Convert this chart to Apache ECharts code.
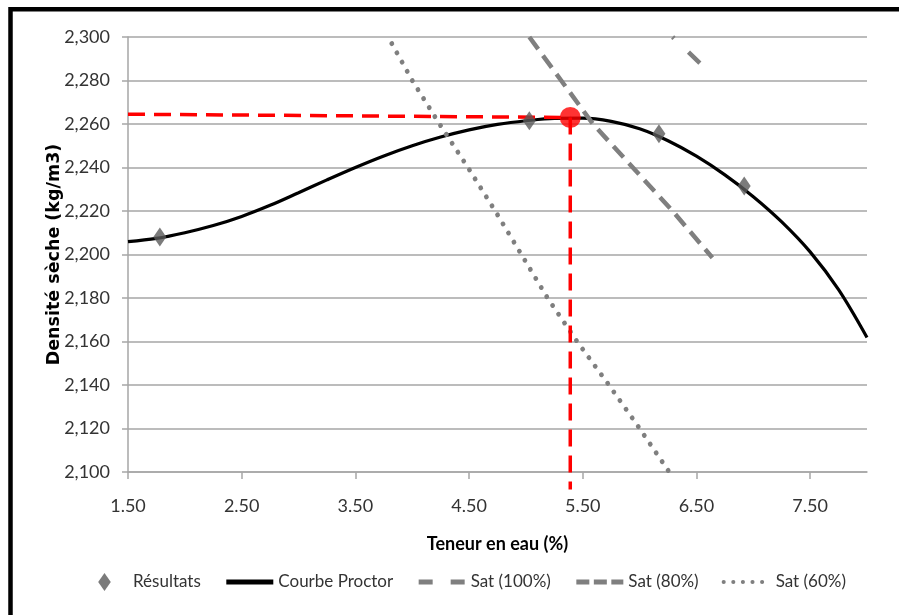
<!DOCTYPE html>
<html>
<head>
<meta charset="utf-8">
<script src="https://cdn.jsdelivr.net/npm/echarts@6/dist/echarts.min.js"></script>
<style>
  html, body { margin: 0; padding: 0; background: #fff; }
  #chart { width: 899px; height: 615px; }
</style>
</head>
<body>
<div id="chart"></div>
<script>
// essais (teneur en eau %, densité sèche)
var resultats = [[1.78, 2.208], [5.03, 2.2615], [6.17, 2.2555], [6.92, 2.2315]]
// courbe Proctor (pas de 0.25)
var courbeProctor = [
  [1.5, 2.2059], [1.75, 2.2074], [2.0, 2.2100], [2.25, 2.2133], [2.5, 2.2175],
  [2.75, 2.2226], [3.0, 2.2284], [3.25, 2.2343], [3.5, 2.2400], [3.75, 2.2453],
  [4.0, 2.2500], [4.25, 2.2540], [4.5, 2.2573], [4.75, 2.2598], [5.0, 2.2615],
  [5.25, 2.2626], [5.5, 2.2627], [5.75, 2.2612], [6.0, 2.2578], [6.25, 2.2523],
  [6.5, 2.2452], [6.75, 2.2366], [7.0, 2.2266], [7.25, 2.2150], [7.5, 2.2012],
  [7.75, 2.1838], [8.0, 2.1618]
]
var sat100 = [[6.29, 2.300], [6.53, 2.288]]
var sat80 = [[5.03, 2.300], [5.31, 2.280], [5.59, 2.260], [5.94, 2.240], [6.29, 2.220], [6.64, 2.1985]]
var sat60 = [
  [3.82, 2.297], [4.00, 2.280], [4.24, 2.260], [4.49, 2.240], [4.73, 2.220], [4.96, 2.200],
  [5.19, 2.180], [5.45, 2.160], [5.73, 2.140], [6.00, 2.120], [6.26, 2.100]
]
// optimum Proctor
var optimum = [[5.39, 2.263]]
var repereH = [[1.5, 2.2645], [5.39, 2.263]]
var repereV = [[5.39, 2.263], [5.39, 2.092]]
var xTicks = [1.5, 2.5, 3.5, 4.5, 5.5, 6.5, 7.5]

var font = "Lato, 'Liberation Sans', sans-serif"
var gridGrey = '#a6a6a6'
var satGrey = '#7f7f7f'

var chart = echarts.init(document.getElementById('chart'))
chart.setOption({
  backgroundColor: '#fff',
  animation: false,
  graphic: [{
    type: 'rect',
    z: 100,
    silent: true,
    shape: { x: 10.5, y: 9.2, width: 920, height: 640 },
    style: { fill: 'none', stroke: '#000', lineWidth: 4.5 }
  }],
  grid: {
    left: 128,
    right: 32,
    top: 37,
    bottom: 143,
    containLabel: false,
    outerBoundsMode: 'none'
  },
  legend: {
    data: [
      { name: 'Résultats', icon: 'path://M-2.61,0 M2.61,0 M0,-1 L0.7,0 L0,1 L-0.7,0 Z' },
      { name: 'Courbe Proctor', itemStyle: { opacity: 0 }, lineStyle: { width: 5 } },
      { name: 'Sat (100%)', itemStyle: { opacity: 0 }, lineStyle: { width: 5, type: [14, 18], dashOffset: 0 } },
      { name: 'Sat (80%)', itemStyle: { opacity: 0 }, lineStyle: { width: 5, type: [13, 4.5] } },
      { name: 'Sat (60%)', itemStyle: { opacity: 0 }, lineStyle: { width: 4, type: [0.1, 9.5], cap: 'round' } }
    ],
    left: 81,
    top: 573,
    padding: 0,
    itemWidth: 47,
    itemHeight: 18,
    itemGap: 23,
    textStyle: { fontFamily: font, fontSize: 17, color: '#333' }
  },
  xAxis: {
    type: 'value',
    min: 1.5,
    max: 8,
    name: 'Teneur en eau (%)',
    nameLocation: 'middle',
    nameGap: 63,
    nameMoveOverlap: false,
    nameTextStyle: { fontFamily: font, fontSize: 18, fontWeight: 'bold', color: '#000' },
    axisLine: { show: true, lineStyle: { color: gridGrey, width: 1.5 } },
    axisTick: { show: true, length: 7, customValues: xTicks, lineStyle: { color: gridGrey, width: 1.5 } },
    axisLabel: {
      customValues: xTicks,
      margin: 25,
      fontFamily: font,
      fontSize: 18,
      color: '#333',
      formatter: function (v) { return v.toFixed(2) }
    },
    splitLine: { show: false }
  },
  yAxis: {
    type: 'value',
    min: 2.1,
    max: 2.3,
    interval: 0.02,
    name: 'Densité sèche (kg/m3)',
    nameLocation: 'middle',
    nameGap: 65,
    nameMoveOverlap: false,
    nameTextStyle: { fontFamily: "'DejaVu Sans', sans-serif", fontSize: 17.5, fontWeight: 'bold', color: '#000' },
    axisLine: { show: true, lineStyle: { color: gridGrey, width: 1.5 } },
    axisTick: { show: true, length: 6, lineStyle: { color: gridGrey, width: 1.5 } },
    axisLabel: {
      margin: 18,
      fontFamily: font,
      fontSize: 18,
      color: '#333',
      formatter: function (v) { return v.toFixed(3).replace('.', ',') }
    },
    splitLine: { show: true, lineStyle: { color: gridGrey, width: 1.5 } }
  },
  series: [
    {
      name: 'Résultats',
      type: 'scatter',
      symbol: 'diamond',
      symbolSize: [13, 19],
      itemStyle: { color: '#5a5a5a' },
      z: 5,
      data: resultats
    },
    {
      name: 'Courbe Proctor',
      type: 'line',
      symbol: 'none',
      smooth: 0.35,
      lineStyle: { color: '#000', width: 3.2 },
      itemStyle: { color: '#000' },
      z: 2,
      data: courbeProctor
    },
    {
      name: 'Sat (100%)',
      type: 'line',
      symbol: 'none',
      lineStyle: { color: satGrey, width: 4.5, type: [17, 20], dashOffset: 15 },
      itemStyle: { color: satGrey },
      z: 3,
      data: sat100
    },
    {
      name: 'Sat (80%)',
      type: 'line',
      symbol: 'none',
      lineStyle: { color: satGrey, width: 4.5, type: [15, 8] },
      itemStyle: { color: satGrey },
      z: 3,
      data: sat80
    },
    {
      name: 'Sat (60%)',
      type: 'line',
      symbol: 'none',
      lineStyle: { color: satGrey, width: 4.8, type: [0.1, 10.5], cap: 'round' },
      itemStyle: { color: satGrey },
      z: 3,
      data: sat60
    },
    {
      name: 'repereH',
      type: 'line',
      symbol: 'none',
      lineStyle: { color: '#ff0000', width: 3.5, type: [17, 9] },
      z: 4,
      data: repereH
    },
    {
      name: 'repereV',
      type: 'line',
      symbol: 'none',
      clip: false,
      lineStyle: { color: '#ff0000', width: 3.5, type: [17, 9] },
      z: 4,
      data: repereV
    },
    {
      name: 'optimum',
      type: 'scatter',
      symbol: 'circle',
      symbolSize: 21,
      itemStyle: { color: '#ff0000' },
      z: 6,
      data: optimum
    }
  ]
})
</script>
</body>
</html>
